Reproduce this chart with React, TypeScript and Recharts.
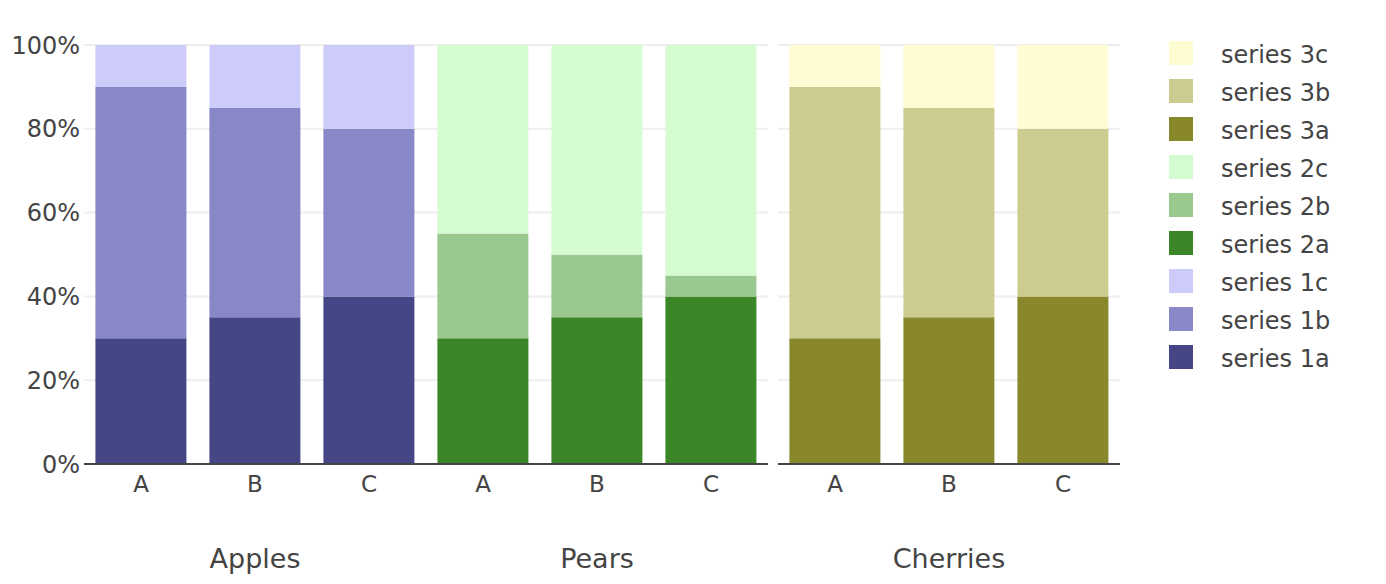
import React from 'react';
import { BarChart, Bar, XAxis, YAxis, CartesianGrid, Cell } from 'recharts';

const categories = ['A', 'B', 'C'];
const groupNames = ['Apples', 'Pears', 'Cherries'];

const applesA = [30, 35, 40];
const applesB = [60, 50, 40];
const applesC = [10, 15, 20];
const pearsA = [30, 35, 40];
const pearsB = [25, 15, 5];
const pearsC = [45, 50, 55];
const cherriesA = [30, 35, 40];
const cherriesB = [60, 50, 40];
const cherriesC = [10, 15, 20];

const colors1 = ['#444685', '#8888c8', '#cccbfa'];
const colors2 = ['#3b8626', '#99c98e', '#d5fbd0'];
const colors3 = ['#88872c', '#cccc90', '#fefcd2'];

const yTicks = [0, 20, 40, 60, 80, 100];

const legendNames = ['series 3c', 'series 3b', 'series 3a', 'series 2c', 'series 2b', 'series 2a', 'series 1c', 'series 1b', 'series 1a'];
const legendColors = [colors3[2], colors3[1], colors3[0], colors2[2], colors2[1], colors2[0], colors1[2], colors1[1], colors1[0]];

const FONT = '"DejaVu Sans", Verdana, sans-serif';
const TEXT = '#444';

function buildRows(group: string, a: number[], b: number[], c: number[], colors: string[]) {
  return categories.map((cat, i) => ({ cat, group, a: a[i], b: b[i], c: c[i], colors }));
}

const leftData = [
  ...buildRows(groupNames[0], applesA, applesB, applesC, colors1),
  ...buildRows(groupNames[1], pearsA, pearsB, pearsC, colors2),
];
const rightData = buildRows(groupNames[2], cherriesA, cherriesB, cherriesC, colors3);

function makeTick(data: any[]) {
  return (props: any) => {
    const { x, y, payload } = props;
    const idx = payload.index;
    const row = data[idx];
    return (
      <g>
        <text x={x} y={y} dy={28} textAnchor="middle" fill={TEXT} fontSize={23} fontFamily={FONT}>
          {payload.value}
        </text>
        {idx % 3 === 1 && row ? (
          <text x={x} y={y} dy={104} textAnchor="middle" fill={TEXT} fontSize={27} fontFamily={FONT}>
            {row.group}
          </text>
        ) : null}
      </g>
    );
  };
}

const keys: Array<'a' | 'b' | 'c'> = ['a', 'b', 'c'];

function Bars(data: any[]) {
  return keys.map((k, ki) => (
    <Bar key={k} dataKey={k} stackId="s" isAnimationActive={false}>
      {data.map((row, i) => (
        <Cell key={i} fill={row.colors[ki]} />
      ))}
    </Bar>
  ));
}

export default function App() {
  return (
    <div style={{ position: 'absolute', left: 0, top: 0, width: 1386, height: 584, background: '#fff' }}>
      <div style={{ position: 'absolute', left: 0, top: 0 }}>
        <BarChart width={768} height={584} data={leftData} margin={{ top: 45, right: 0, bottom: 0, left: 0 }} barCategoryGap="10%">
          <CartesianGrid horizontal vertical={false} stroke="#eee" strokeWidth={2} />
          <XAxis
            dataKey="cat"
            height={120}
            tickLine={false}
            tickSize={0}
            tickMargin={0}
            axisLine={{ stroke: '#444', strokeWidth: 2 }}
            interval={0}
            tick={makeTick(leftData)}
          />
          <YAxis
            width={84}
            domain={[0, 100]}
            ticks={yTicks}
            tickFormatter={(v: number) => `${v}%`}
            axisLine={false}
            tickLine={false}
            tickSize={0}
            tickMargin={4}
            tick={{ fill: TEXT, fontSize: 24, fontFamily: FONT }}
          />
          {Bars(leftData)}
        </BarChart>
      </div>
      <div style={{ position: 'absolute', left: 778, top: 0 }}>
        <BarChart width={342} height={584} data={rightData} margin={{ top: 45, right: 0, bottom: 0, left: 0 }} barCategoryGap="10%">
          <CartesianGrid horizontal vertical={false} stroke="#eee" strokeWidth={2} />
          <XAxis
            dataKey="cat"
            height={120}
            tickLine={false}
            tickSize={0}
            tickMargin={0}
            axisLine={{ stroke: '#444', strokeWidth: 2 }}
            interval={0}
            tick={makeTick(rightData)}
          />
          <YAxis hide domain={[0, 100]} ticks={yTicks} />
          {Bars(rightData)}
        </BarChart>
      </div>
      <svg style={{ position: 'absolute', left: 1150, top: 0 }} width={236} height={400}>
        {legendNames.map((name, i) => (
          <g key={name}>
            <rect x={19} y={41 + i * 38} width={24} height={24} fill={legendColors[i]} />
            <text x={71} y={41 + i * 38 + 22} fill={TEXT} fontSize={24} fontFamily={FONT}>
              {name}
            </text>
          </g>
        ))}
      </svg>
    </div>
  );
}
